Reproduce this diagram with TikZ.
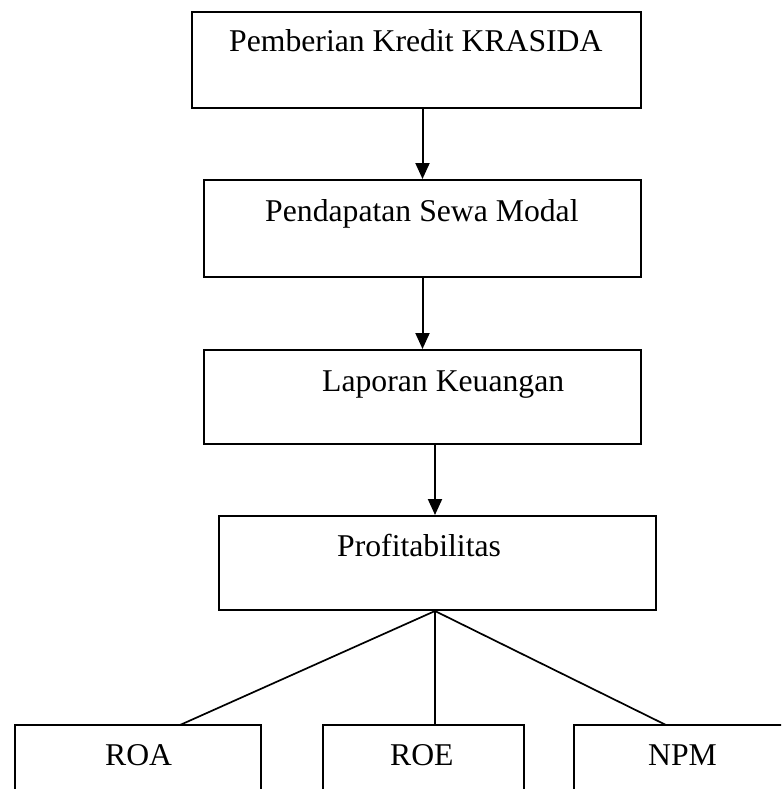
\documentclass[tikz,border=0pt]{standalone}
\usepackage{fontspec}
\setmainfont{Liberation Serif}
\usetikzlibrary{arrows.meta,calc}
\tikzset{
  box/.style={draw=black, line width=2pt, rectangle, inner sep=0pt},
  lbl/.style={anchor=base west, inner sep=0pt, font=\fontsize{31.7}{38}\selectfont},
  arr/.style={draw=black, line width=2pt, -{Triangle[length=16pt,width=14pt]}},
  fan/.style={draw=black, line width=1.7pt}
}
\begin{document}
\begin{tikzpicture}[x=1pt,y=-1pt]
\clip (0,0) rectangle (781,789);
\fill[white] (0,0) rectangle (781,789);
% boxes
\node[box, minimum width=449pt, minimum height=96pt] (b1) at (416.5,60) {};
\node[box, minimum width=437pt, minimum height=97pt] (b2) at (422.5,228.5) {};
\node[box, minimum width=437pt, minimum height=94pt] (b3) at (422.5,397) {};
\node[box, minimum width=437pt, minimum height=94pt] (b4) at (437.5,563) {};
\node[box, minimum width=246pt, minimum height=95pt] (roa) at (138,772.5) {};
\node[box, minimum width=201pt, minimum height=95pt] (roe) at (423.5,772.5) {};
\node[box, minimum width=216pt, minimum height=95pt] (npm) at (682,772.5) {};
% labels
\node[lbl] (t1) at (229,52) {Pemberian Kredit KRASIDA};
\node[lbl] (t2) at (265,221) {Pendapatan Sewa Modal};
\node[lbl] (t3) at (322,391.5) {Laporan Keuangan};
\node[lbl] (t4) at (337,556) {Profitabilitas};
\node[lbl] (t5) at (105,765.5) {ROA};
\node[lbl] (t6) at (390,765.5) {ROE};
\node[lbl] (t7) at (648,765.5) {NPM};
% arrows
\draw[arr] (b2.north |- b1.south) -- (b2.north);
\draw[arr] (b2.south) -- (b3.north);
\draw[arr] ($(b4.north |- b3.south)+(-2.5,0)$) -- ($(b4.north)+(-2.5,0)$);
% fan
\coordinate (hub) at ($(b4.south)+(-2.5,0)$);
\coordinate (roaTop) at (180,725);
\coordinate (roeTop) at (435,725);
\coordinate (npmTop) at (666,725);
\draw[fan] (hub) -- (roaTop);
\draw[fan] (hub) -- (roeTop);
\draw[fan] (hub) -- (npmTop);
\end{tikzpicture}
\end{document}
